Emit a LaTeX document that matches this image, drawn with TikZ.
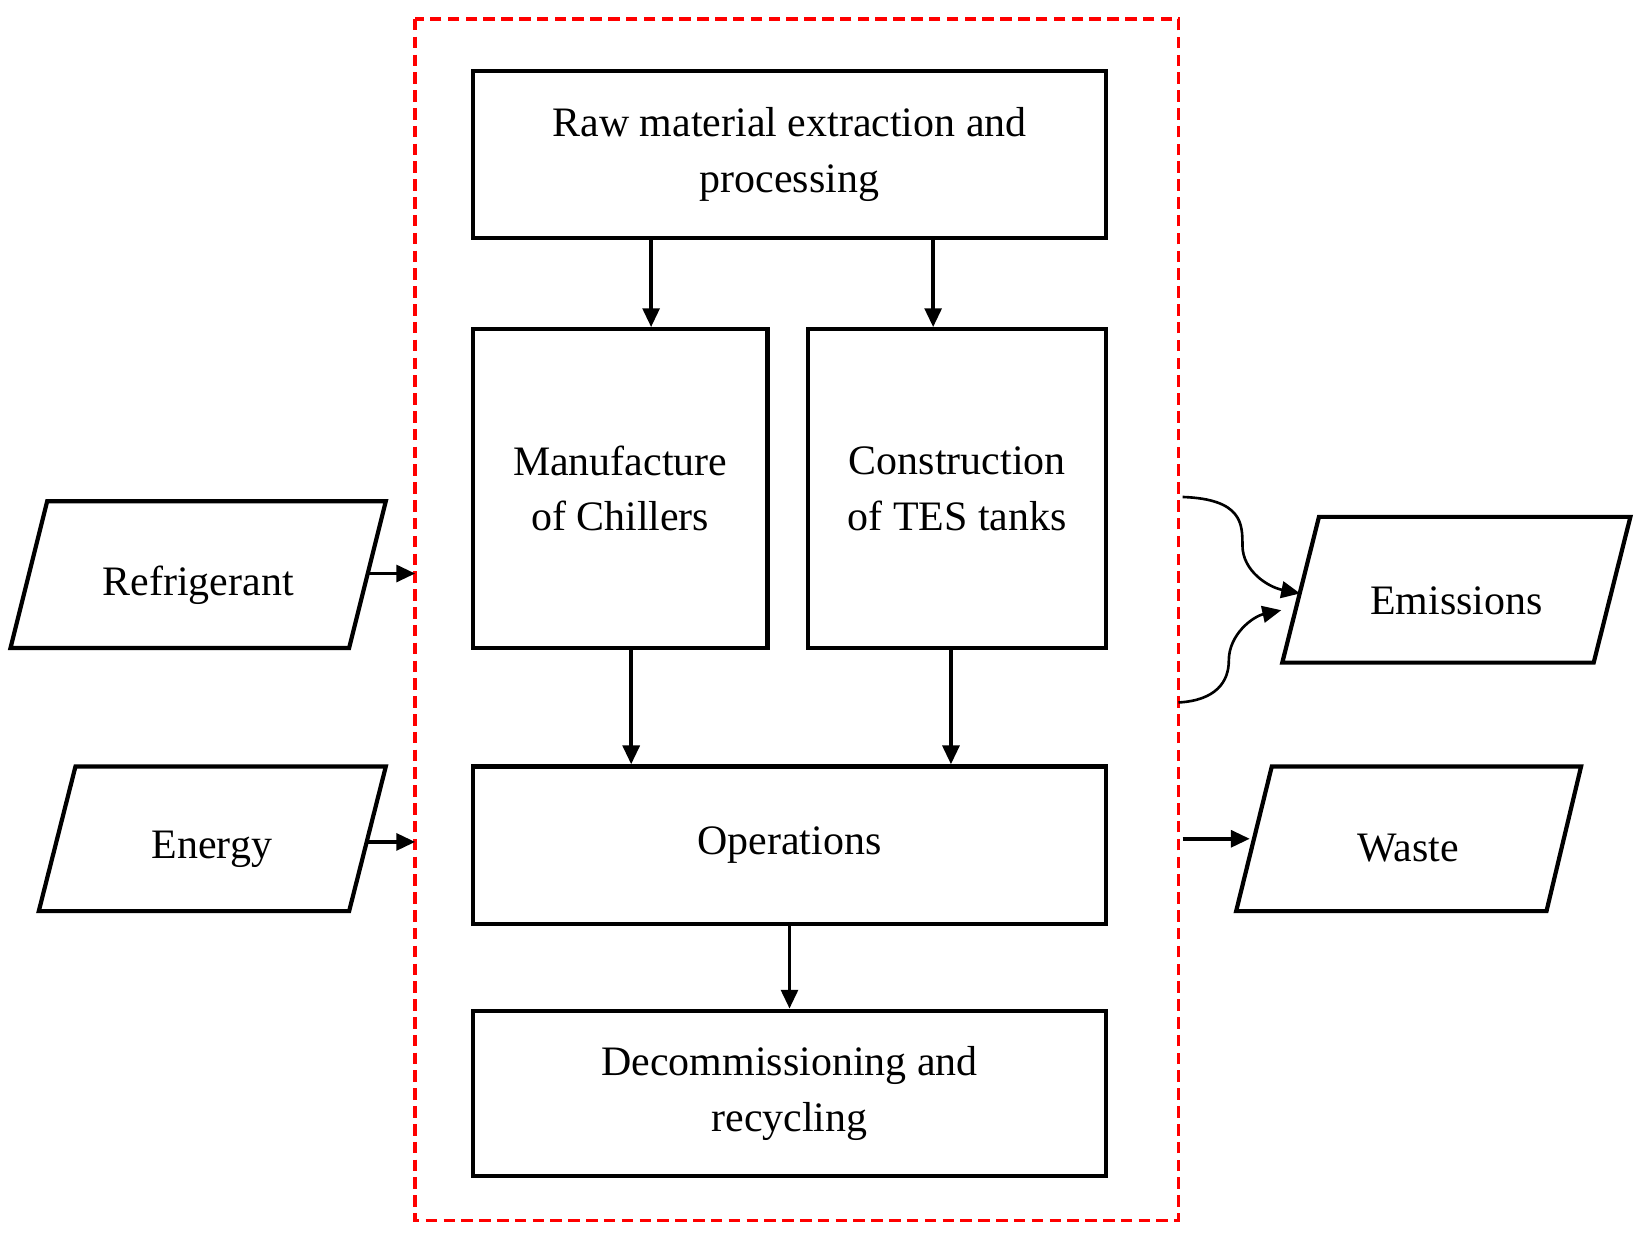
\documentclass[tikz,border=0pt]{standalone}
\usepackage{fontspec}
\setmainfont{Liberation Serif}
\usetikzlibrary{arrows.meta}
\begin{document}
\begin{tikzpicture}[x=1pt,y=-1pt,
  box/.style={draw,line width=4pt,rectangle,inner sep=0pt,align=center,font=\fontsize{40}{53}\selectfont},
  para/.style={draw,line width=4pt,line join=miter},
  lab/.style={inner sep=0pt,font=\fontsize{40}{48}\selectfont},
  arr/.style={line width=3.5pt,-{Triangle[length=18pt,width=16pt]}}]
\useasboundingbox (0,0) rectangle (1568,1182);
\draw[red,line width=3.5pt,dash pattern=on 11pt off 6pt] (396,18) rectangle (1124,1164);
% process boxes
\node (raw) [box,minimum width=604pt,minimum height=159pt] at (753,147.5) {Raw material extraction and\\processing};
\node (man) [box,minimum width=281pt,minimum height=304pt] at (591.5,466) {Manufacture\\of Chillers};
\node (con) [box,minimum width=284pt,minimum height=304pt] at (913,466) {Construction\\of TES tanks};
\node (ops) [box,minimum width=604pt,minimum height=150pt] at (753,806) {Operations};
\node (dec) [box,minimum width=604pt,minimum height=158pt] at (753,1043) {Decommissioning and\\recycling};
% inputs and outputs
\draw[para] (45,478) -- (368,478) -- (333,618) -- (10,618) -- cycle;
\node (ref) [lab] at (189,558) {Refrigerant};
\draw[para] (72,731) -- (368,731) -- (333,869) -- (37,869) -- cycle;
\node (ene) [lab] at (202,810) {Energy};
\draw[para] (1258,493) -- (1555,493) -- (1520,632) -- (1223,632) -- cycle;
\node (emi) [lab] at (1389,573) {Emissions};
\draw[para] (1213,731) -- (1508,731) -- (1475,869) -- (1179,869) -- cycle;
\node (was) [lab] at (1343,809) {Waste};
\coordinate (inR) at (396,547);
\coordinate (inE) at (396,803);
\coordinate (outE1) at (1128,474);
\coordinate (outE2) at (1124,670);
\coordinate (outW) at (1128,800);
% connectors
\draw[arr] (raw.south -| 621,0) -- (man.north -| 621,0);
\draw[arr] (raw.south -| 890,0) -- (con.north -| 890,0);
\draw[arr] (man.south -| 602,0) -- (ops.north -| 602,0);
\draw[arr] (con.south -| 907,0) -- (ops.north -| 907,0);
\draw[arr] (ops) -- (dec);
\draw[arr] (350,547) -- (inR);
\draw[arr] (350,803) -- (inE);
\draw[arr] (outW) -- (1192,800);
\draw[arr,line width=2.5pt] (outE1) .. controls (1185,476) and (1185,500) .. (1185,520) .. controls (1185,545) and (1210,560) .. (1240,566);
\draw[arr,line width=2.5pt] (outE2) .. controls (1160,668) and (1172,650) .. (1172,630) .. controls (1172,605) and (1195,588) .. (1222,582);
\end{tikzpicture}
\end{document}
